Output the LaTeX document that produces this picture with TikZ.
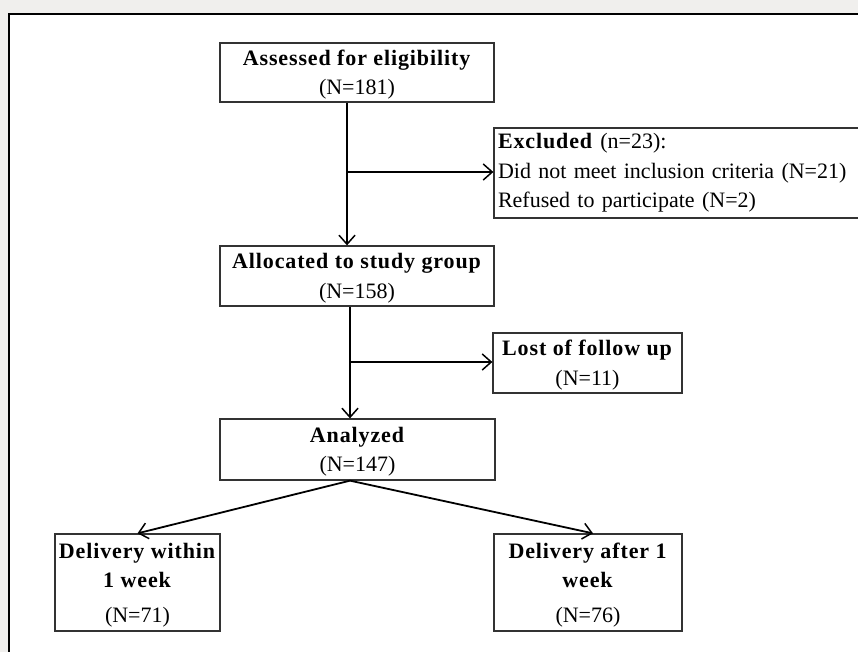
\documentclass[tikz,border=0pt]{standalone}
\usepackage{fontspec}
\setmainfont[BoldFeatures={LetterSpace=4}]{Liberation Serif}
\usetikzlibrary{arrows.meta}

\definecolor{pagegray}{HTML}{F0EFED}
\definecolor{boxline}{HTML}{333333}

\tikzset{
    box/.style={rectangle, draw=boxline, line width=1.3pt, fill=white, inner sep=0, align=center,
        font=\fontsize{22}{29.5}\selectfont},
    cbox/.style={box, text depth=0pt},
    arr/.style={line width=1.8pt, -{Straight Barb[length=9pt,width=16pt,line width=1.5pt]}}
}

\begin{document}
\begin{tikzpicture}[x=1pt, y=-1pt]
    \useasboundingbox (0,0) rectangle (858,652);
    \fill[pagegray] (0,0) rectangle (858,652);
    \draw[line width=2.2pt, fill=white] (9,14) rectangle (880,680);

    \draw
    (357,72.5)node[cbox, minimum width=274pt, minimum height=59pt](assess){\textbf{Assessed for eligibility}\\(N=181)}
    (679,173)node[box, minimum width=370pt, minimum height=90pt, align=left, inner xsep=3pt, text width=362pt](excl){\textbf{Excluded} (n=23):\\Did not meet inclusion criteria (N=21)\\Refused to participate (N=2)}
    (357,276)node[cbox, minimum width=274pt, minimum height=60pt](alloc){\textbf{Allocated to study group}\\(N=158)}
    (587.5,363)node[cbox, minimum width=189pt, minimum height=60pt](lost){\textbf{Lost of follow up}\\(N=11)}
    (357.5,449.5)node[cbox, minimum width=275pt, minimum height=61pt](anal){\textbf{Analyzed}\\(N=147)}
    (137.5,582.5)node[cbox, minimum width=165pt, minimum height=97pt](within){\textbf{Delivery within}\\\textbf{1 week}\\[5pt](N=71)}
    (588,582.5)node[cbox, minimum width=188pt, minimum height=97pt](after){\textbf{Delivery after 1}\\\textbf{week}\\[5pt](N=76)}
    ;

    % branch points on the trunks
    \coordinate (b1) at (347,172);
    \coordinate (b2) at (350,362);

    \draw[arr] (assess.south -| b1) -- (alloc.north -| b1);
    \draw[arr] (b1) -- (b1 -| excl.west);
    \draw[arr] (alloc.south -| b2) -- (anal.north -| b2);
    \draw[arr] (b2) -- (b2 -| lost.west);
    \draw[arr] (anal.south -| b2) -- (within.north);
    \draw[arr] (anal.south -| b2) -- ([xshift=5pt]after.north);
\end{tikzpicture}
\end{document}
